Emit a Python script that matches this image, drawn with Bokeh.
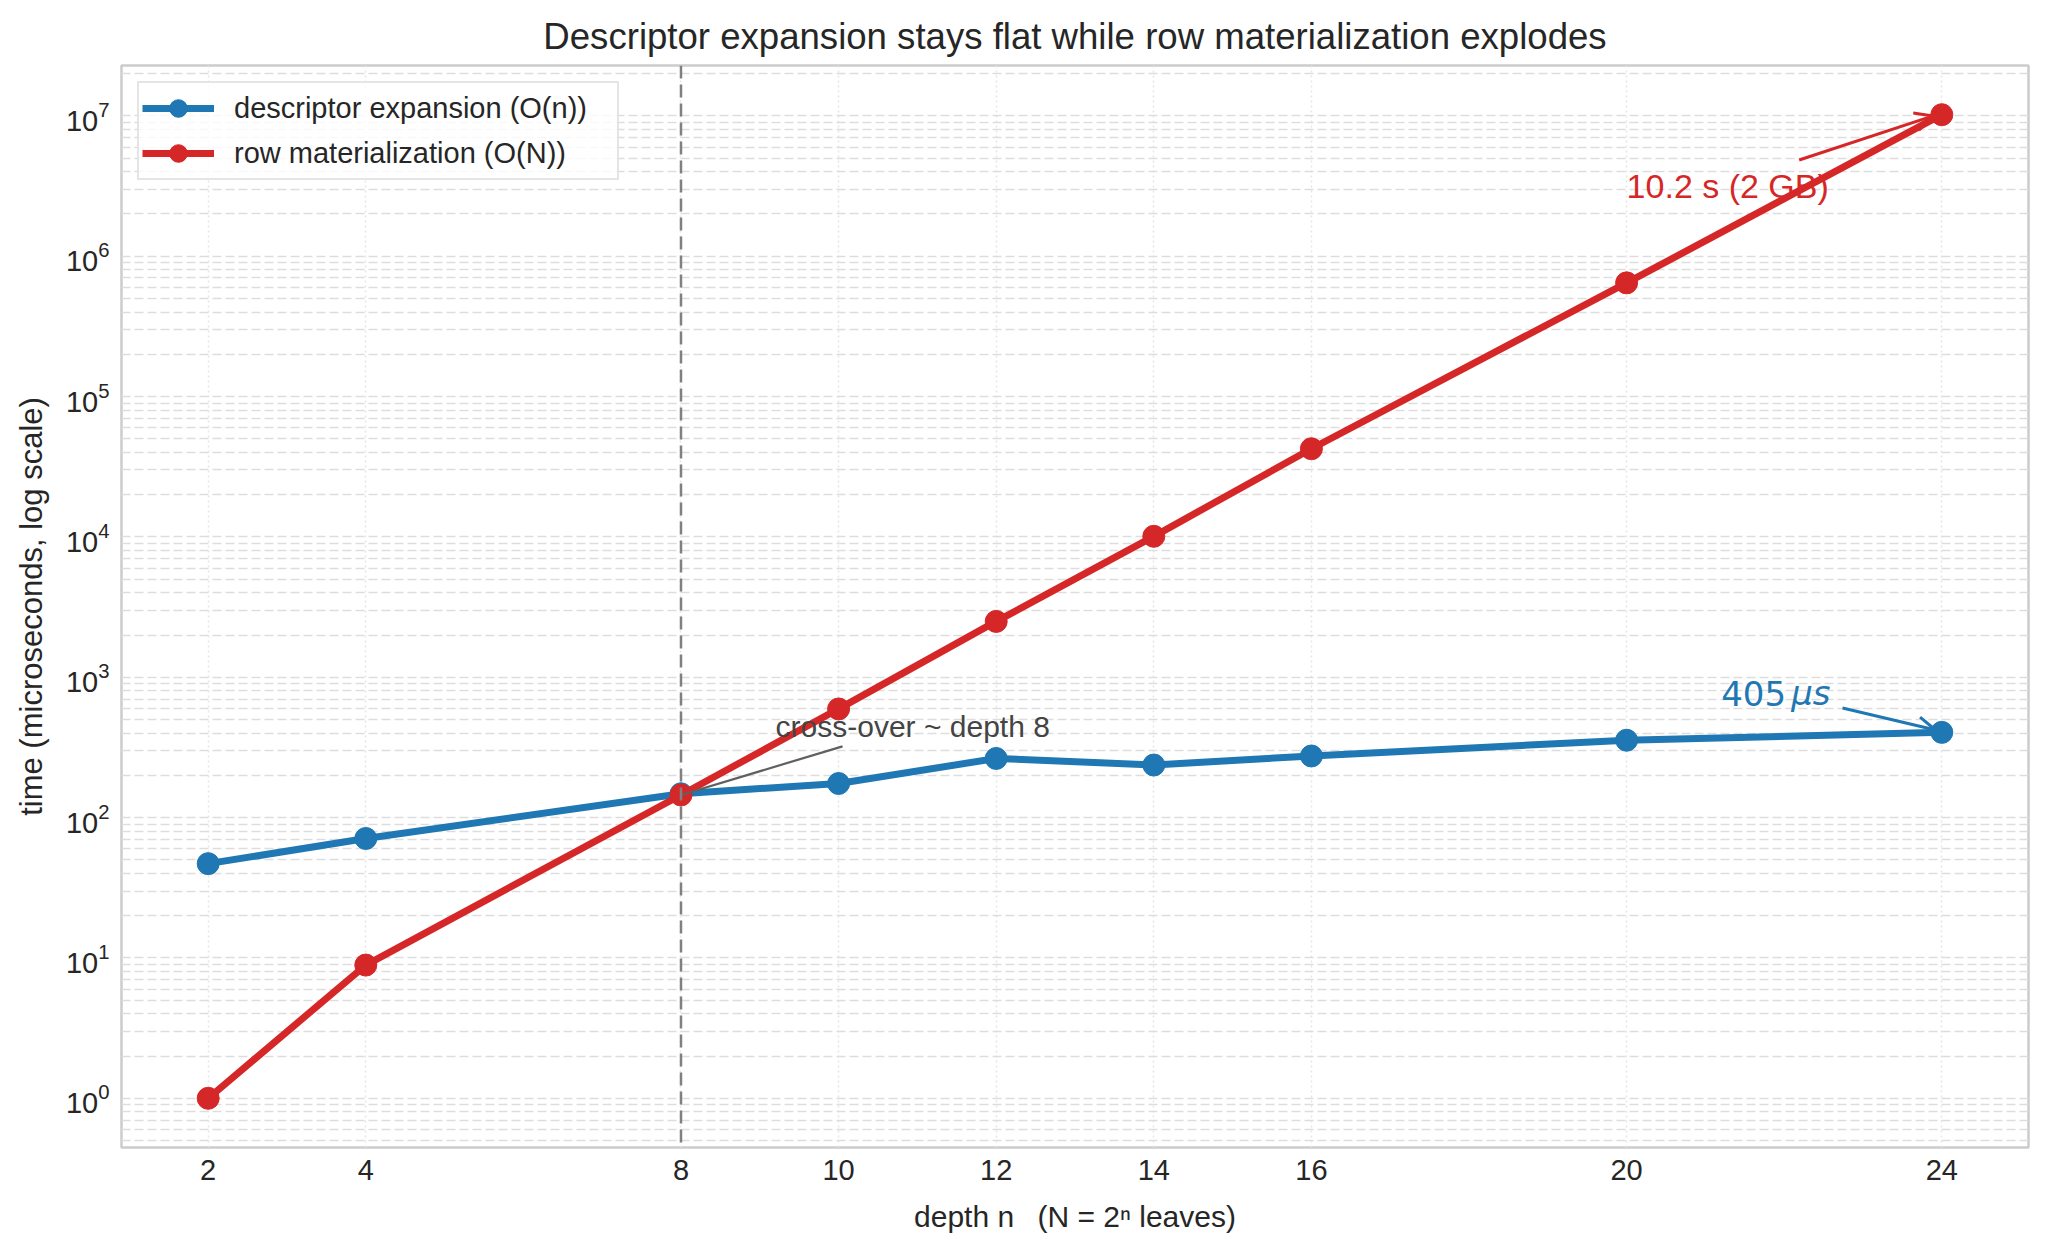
import math
from bokeh.plotting import figure
from bokeh.models import Range1d, FixedTicker, Arrow, OpenHead, Label, Span
from bokeh.embed import file_html
from bokeh.resources import INLINE

# ---------------- data ----------------
depth = [2, 4, 8, 10, 12, 14, 16, 20, 24]
descriptor_us = [47, 71, 148, 175, 264, 237, 275, 356, 405]
row_us = [1.0, 8.9, 145, 595, 2500, 10100, 42500, 646000, 10200000]
x_ticks = [2, 4, 8, 10, 12, 14, 16, 20, 24]
crossover_depth = 8

title_text = "Descriptor expansion stays flat while row materialization explodes"
label_desc = "descriptor expansion (O(n))"
label_row = "row materialization (O(N))"
xlabel = "depth n\u2002 (N = 2\u207f leaves)"
ylabel = "time (microseconds, log scale)"

# annotation anchors (data coordinates)
red_note = "10.2 s (2 GB)"
red_note_xy = (20.0, 3.15e6)
red_arrow_from = (22.19, 4.85e6)
blue_note_num = "405"
blue_note_unit = "\u03bcs"
blue_note_xy = (21.2, 770)
blue_arrow_from = (22.74, 604)
cross_note = "cross-over ~ depth 8"
cross_note_xy = (9.2, 445)
cross_line_from = (10.05, 322)

BLUE = "#1f77b4"
RED = "#d62728"
TXT = "#262626"
FONT = "Liberation Sans"

# ---------------- ranges ----------------
all_y = descriptor_us + row_us
lo, hi = math.log10(min(all_y)), math.log10(max(all_y))
pad = 0.05 * (hi - lo)
xpad = 0.05 * (max(depth) - min(depth))

decades = [10.0 ** k for k in range(0, 8)]
minor = [m * 10.0 ** k for k in range(-1, 8) for m in range(2, 10)]

p = figure(
    width=2049, height=1257,
    x_range=Range1d(min(depth) - xpad, max(depth) + xpad),
    y_range=Range1d(10 ** (lo - pad), 10 ** (hi + pad)),
    y_axis_type="log",
    output_backend="svg", toolbar_location=None,
    min_border_left=121, min_border_right=21,
    min_border_top=65, min_border_bottom=110,
    title=title_text,
)
p.background_fill_color = "white"
p.border_fill_color = "white"
p.outline_line_color = "#cccccc"
p.outline_line_width = 2.5

p.title.align = "center"
p.title.text_font = FONT
p.title.text_font_size = "36.6px"
p.title.text_font_style = "normal"
p.title.text_color = TXT
p.title.standoff = 17

p.xaxis.ticker = FixedTicker(ticks=x_ticks)
p.yaxis.ticker = FixedTicker(ticks=decades, minor_ticks=minor)
for ax in (p.xaxis, p.yaxis):
    ax.axis_line_color = None
    ax.major_tick_line_color = None
    ax.minor_tick_line_color = None
    ax.major_label_text_font = FONT
    ax.major_label_text_font_size = "29px"
    ax.major_label_text_color = TXT
    ax.axis_label_text_font = FONT
    ax.axis_label_text_font_size = "30px"
    ax.axis_label_text_font_style = "normal"
    ax.axis_label_text_color = TXT
p.yaxis.axis_label_text_font_size = "31px"
p.xaxis.axis_label = xlabel
p.yaxis.axis_label = ylabel
p.xaxis.major_label_standoff = 6
p.xaxis.axis_label_standoff = 17
p.yaxis.major_label_standoff = 6
p.yaxis.axis_label_standoff = 14

p.xgrid.grid_line_color = "#e6e6e6"
p.xgrid.grid_line_dash = "2 3"
p.xgrid.grid_line_width = 1.5
p.ygrid.grid_line_color = "#dddddd"
p.ygrid.grid_line_dash = "9 4"
p.ygrid.grid_line_width = 1.5
p.ygrid.minor_grid_line_color = "#dddddd"
p.ygrid.minor_grid_line_dash = "9 4"
p.ygrid.minor_grid_line_width = 1.5

p.add_layout(Span(location=crossover_depth, dimension="height",
                  line_color="#808080", line_dash="13 6", line_width=2.5))

# series
p.line(depth, descriptor_us, color=BLUE, line_width=7, legend_label=label_desc)
p.scatter(depth, descriptor_us, size=22, color=BLUE, legend_label=label_desc)
p.line(depth, row_us, color=RED, line_width=7, legend_label=label_row)
p.scatter(depth, row_us, size=22, color=RED, legend_label=label_row)

# cross-over pointer
ci = depth.index(crossover_depth)
p.segment(x0=[cross_line_from[0]], y0=[cross_line_from[1]],
          x1=[crossover_depth], y1=[row_us[ci]],
          line_color="#606060", line_width=2.2)
p.add_layout(Label(x=cross_note_xy[0], y=cross_note_xy[1], text=cross_note,
                   text_font=FONT, text_font_size="30px", text_color="#444444",
                   text_baseline="alphabetic", text_align="left"))

# red note
p.add_layout(Arrow(end=OpenHead(size=18, line_color=RED, line_width=3),
                   x_start=red_arrow_from[0], y_start=red_arrow_from[1],
                   x_end=depth[-1] - 0.11, y_end=row_us[-1] * 0.98,
                   line_color=RED, line_width=3))
p.add_layout(Label(x=red_note_xy[0], y=red_note_xy[1], text=red_note,
                   text_font=FONT, text_font_size="34px", text_color=RED,
                   text_baseline="alphabetic", text_align="left"))

# blue note
p.add_layout(Arrow(end=OpenHead(size=18, line_color=BLUE, line_width=3),
                   x_start=blue_arrow_from[0], y_start=blue_arrow_from[1],
                   x_end=depth[-1] - 0.08, y_end=descriptor_us[-1] * 1.04,
                   line_color=BLUE, line_width=3))
p.add_layout(Label(x=blue_note_xy[0], y=blue_note_xy[1], text=blue_note_num,
                   text_font="DejaVu Sans", text_font_size="34px", text_color=BLUE,
                   text_baseline="alphabetic", text_align="left"))
p.add_layout(Label(x=blue_note_xy[0], y=blue_note_xy[1], x_offset=70,
                   text=blue_note_unit,
                   text_font="DejaVu Sans", text_font_size="34px",
                   text_font_style="italic", text_color=BLUE,
                   text_baseline="alphabetic", text_align="left"))

leg = p.legend[0]
leg.location = "top_left"
leg.margin = 16
leg.padding = 3
leg.spacing = 1
leg.glyph_width = 72
leg.glyph_height = 44
leg.label_height = 30
leg.label_width = 380
leg.label_standoff = 20
leg.label_text_font = FONT
leg.label_text_font_size = "29px"
leg.label_text_color = TXT
leg.border_line_color = "#cccccc"
leg.border_line_width = 2
leg.background_fill_alpha = 0.8

open("out.html", "w").write(file_html(p, INLINE))
